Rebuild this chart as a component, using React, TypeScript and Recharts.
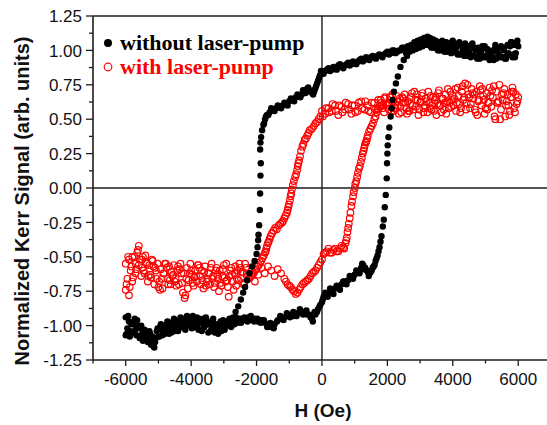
import React from 'react';
import { ScatterChart, Scatter, XAxis, YAxis, ReferenceLine, Legend, Label } from 'recharts';

// H (Oe), normalized Kerr signal — "without laser-pump", sweep from +6000 down to -6000
const blackDown: [number, number][] = [
  [6000, 1.03], [5900, 0.95], [5800, 1.06], [5700, 0.98], [5600, 0.94], [5500, 1.02], [5400, 0.97], [5300, 1.04],
  [5200, 0.95], [5100, 1.0], [5000, 0.96], [4900, 1.03], [4800, 0.97], [4700, 1.0], [4600, 1.05], [4500, 0.99],
  [4400, 1.03], [4300, 1.0], [4200, 1.06], [4100, 1.02], [4000, 1.07], [3900, 1.03], [3800, 1.06], [3700, 1.01],
  [3600, 1.05], [3500, 1.03], [3400, 1.08], [3300, 1.09], [3200, 1.04], [3100, 1.06], [3000, 1.05], [2900, 1.04],
  [2800, 1.02], [2700, 1.03], [2600, 1.01], [2500, 1.02], [2400, 1.0], [2300, 0.99], [2200, 1.0], [2100, 0.98],
  [2000, 0.99], [1900, 0.97], [1800, 0.96], [1700, 0.96], [1600, 0.95], [1500, 0.95], [1400, 0.94], [1300, 0.93],
  [1200, 0.94], [1100, 0.92], [1000, 0.91], [900, 0.9], [800, 0.91], [700, 0.89], [600, 0.88], [500, 0.89],
  [400, 0.87], [300, 0.86], [200, 0.87], [100, 0.85], [0, 0.84], [-60, 0.82], [-120, 0.78], [-180, 0.74],
  [-240, 0.7], [-300, 0.69], [-380, 0.71], [-460, 0.72], [-540, 0.7], [-620, 0.68], [-700, 0.67], [-800, 0.66],
  [-900, 0.64], [-1000, 0.63], [-1100, 0.61], [-1200, 0.6], [-1300, 0.59], [-1400, 0.58], [-1500, 0.57], [-1600, 0.55],
  [-1680, 0.53], [-1740, 0.5], [-1790, 0.46], [-1830, 0.42], [-1860, 0.37], [-1880, 0.33], [-1890, 0.28],
  [-1870, 0.18], [-1880, 0.09], [-1890, -0.04], [-1900, -0.16], [-1920, -0.27], [-1940, -0.34], [-1950, -0.38],
  [-1970, -0.43], [-2000, -0.48], [-2060, -0.53], [-2140, -0.57], [-2220, -0.62], [-2290, -0.67], [-2350, -0.72],
  [-2410, -0.76], [-2480, -0.81], [-2560, -0.86], [-2640, -0.9], [-2720, -0.94], [-2800, -0.96], [-2900, -0.99],
  [-3000, -1.02], [-3100, -0.97], [-3200, -1.03], [-3300, -0.99], [-3400, -1.04], [-3500, -0.98], [-3600, -1.01],
  [-3700, -0.96], [-3800, -1.0], [-3900, -0.95], [-4000, -0.99], [-4100, -0.96], [-4200, -1.02], [-4300, -0.98],
  [-4400, -1.04], [-4500, -1.0], [-4600, -1.05], [-4700, -1.01], [-4800, -1.06], [-4900, -1.03], [-5000, -1.08],
  [-5100, -1.12], [-5150, -1.15], [-5200, -1.11], [-5300, -1.07], [-5400, -1.04], [-5500, -1.06], [-5600, -1.0],
  [-5700, -1.03], [-5800, -0.98], [-5900, -1.05], [-6000, -1.07],
];

// "without laser-pump", sweep from -6000 back up to +6000
const blackUp: [number, number][] = [
  [-6000, -0.94], [-5950, -1.02], [-5900, -0.97], [-5850, -1.04], [-5750, -0.99], [-5650, -0.96], [-5550, -1.02],
  [-5450, -1.07], [-5350, -1.1], [-5250, -1.06], [-5150, -1.13], [-5050, -1.04], [-4950, -1.01], [-4850, -1.05],
  [-4750, -0.99], [-4650, -1.02], [-4550, -0.97], [-4450, -1.0], [-4350, -0.96], [-4250, -0.99], [-4150, -0.94],
  [-4050, -0.97], [-3950, -0.93], [-3850, -0.97], [-3750, -0.95], [-3650, -0.98], [-3550, -0.94], [-3450, -0.99],
  [-3350, -0.97], [-3250, -1.01], [-3150, -1.03], [-3050, -0.99], [-2950, -1.0], [-2850, -0.97], [-2750, -0.98],
  [-2650, -0.96], [-2550, -0.97], [-2450, -0.95], [-2350, -0.96], [-2250, -0.94], [-2150, -0.96], [-2050, -0.95],
  [-1950, -0.97], [-1850, -0.96], [-1750, -0.98], [-1650, -0.99], [-1550, -1.01], [-1450, -0.99], [-1350, -0.96],
  [-1250, -0.95], [-1150, -0.94], [-1050, -0.93], [-950, -0.92], [-850, -0.93], [-750, -0.91], [-650, -0.9],
  [-550, -0.9], [-450, -0.92], [-350, -0.94], [-280, -0.97], [-200, -0.92], [-120, -0.88], [-50, -0.85],
  [0, -0.83], [50, -0.79], [120, -0.78], [200, -0.76], [300, -0.75], [400, -0.73], [500, -0.72], [600, -0.7],
  [700, -0.68], [800, -0.67], [900, -0.65], [1000, -0.63], [1100, -0.61], [1200, -0.58], [1260, -0.56],
  [1320, -0.58], [1400, -0.61], [1460, -0.62], [1520, -0.6], [1580, -0.57], [1640, -0.53], [1700, -0.49],
  [1760, -0.43], [1820, -0.35], [1860, -0.28], [1890, -0.23], [1920, -0.14], [1950, -0.05], [1980, 0.07],
  [1990, 0.18], [2000, 0.25], [2010, 0.31], [2030, 0.37], [2060, 0.44], [2100, 0.52], [2130, 0.58],
  [2160, 0.64], [2200, 0.7], [2260, 0.76], [2320, 0.81], [2400, 0.88], [2500, 0.93], [2600, 0.96],
  [2700, 1.0], [2800, 1.03], [2900, 1.06], [3000, 1.04], [3100, 1.08], [3250, 1.05], [3350, 1.02],
  [3450, 1.06], [3550, 1.0], [3650, 1.04], [3750, 0.99], [3850, 1.03], [3950, 0.98], [4050, 1.02],
  [4150, 0.97], [4250, 1.04], [4350, 0.96], [4450, 1.0], [4550, 0.95], [4650, 1.02], [4750, 0.94],
  [4850, 0.99], [4950, 0.95], [5050, 1.01], [5150, 0.96], [5250, 0.93], [5350, 0.99], [5450, 0.95],
  [5550, 1.0], [5650, 0.96], [5750, 1.03], [5850, 0.97], [5950, 1.05],
];

// "without laser-pump", further readings inside the saturated bands and along the branches
const blackBandsExtra: [number, number][] = [
  [-5975, -1.06], [-5925, -0.93], [-5875, -1.08], [-5825, -0.99], [-5775, -1.05], [-5725, -0.95], [-5675, -1.07],
  [-5625, -1.01], [-5575, -1.09], [-5525, -1.0], [-5475, -1.11], [-5425, -1.03], [-5375, -1.08], [-5325, -1.12],
  [-5275, -1.04], [-5225, -1.14], [-5175, -1.08], [-5125, -1.16], [-5075, -1.09], [-5025, -1.02], [-4975, -1.08],
  [-4925, -0.99], [-4875, -1.07], [-4825, -1.01], [-4775, -1.05], [-4725, -0.97], [-4675, -1.06], [-4625, -0.99],
  [-4575, -1.03], [-4525, -0.95], [-4475, -1.04], [-4425, -0.97], [-4375, -1.02], [-4325, -0.94], [-4275, -1.01],
  [-4225, -0.96], [-4175, -1.03], [-4125, -0.93], [-4075, -1.0], [-4025, -0.95], [-3975, -1.02], [-3925, -0.96],
  [-3875, -1.01], [-3825, -0.94], [-3775, -1.03], [-3725, -0.97], [-3675, -1.04], [-3625, -0.95], [-3575, -1.0],
  [-3525, -0.96], [-3475, -1.05], [-3425, -0.98], [-3375, -1.02], [-3325, -0.95], [-3275, -1.05], [-3225, -0.99],
  [-3175, -1.06], [-3125, -1.0], [-3075, -1.04], [-3025, -0.96], [-2975, -1.03], [-2925, -0.97], [-2875, -1.0],
  [-2825, -0.95], [-2775, -1.01], [-2725, -0.96], [-2675, -0.99], [-2625, -0.94], [-2575, -0.98], [-2525, -0.95],
  [-2475, -0.98], [-2375, -0.94], [-2275, -0.97], [-2175, -0.93], [-2075, -0.97], [-1975, -0.95], [-1875, -0.98],
  [-1775, -0.96], [-1675, -1.01], [-1575, -0.98], [-1475, -1.02], [-1375, -0.97], [-1275, -0.93], [-1175, -0.96],
  [-1075, -0.91], [-975, -0.94], [-875, -0.9], [-775, -0.93], [-675, -0.88], [-575, -0.92], [-475, -0.89],
  [-375, -0.92], [-300, -0.95], [-225, -0.9], [-150, -0.9], [-75, -0.86], [25, -0.81], [100, -0.76], [175, -0.79],
  [250, -0.73], [350, -0.77], [450, -0.71], [550, -0.74], [650, -0.68], [750, -0.7], [850, -0.64], [950, -0.66],
  [1050, -0.6], [1150, -0.62], [1230, -0.55], [1290, -0.59], [1370, -0.6], [1430, -0.64], [1490, -0.61],
  [1550, -0.58], [1610, -0.56], [1670, -0.51], [1730, -0.46], [1790, -0.39],
  [2525, 1.01], [2575, 0.98], [2625, 1.03], [2675, 0.99], [2725, 1.04], [2775, 1.0], [2825, 1.06], [2875, 1.01],
  [2925, 1.07], [2975, 1.02], [3025, 1.08], [3075, 1.03], [3125, 1.09], [3175, 1.04], [3225, 1.1], [3275, 1.06],
  [3325, 1.03], [3375, 1.08], [3425, 1.02], [3475, 1.07], [3525, 1.01], [3575, 1.06], [3625, 1.0], [3675, 1.07],
  [3725, 1.02], [3775, 1.06], [3825, 0.99], [3875, 1.05], [3925, 1.0], [3975, 1.06], [4025, 0.99], [4075, 1.04],
  [4125, 0.98], [4175, 1.05], [4225, 0.97], [4275, 1.03], [4325, 0.98], [4375, 1.05], [4425, 0.96], [4475, 1.03],
  [4525, 0.97], [4575, 1.04], [4625, 0.96], [4675, 1.01], [4725, 0.95], [4775, 1.02], [4825, 0.94], [4875, 1.0],
  [4925, 0.96], [4975, 1.03], [5025, 0.95], [5075, 1.0], [5125, 0.93], [5175, 0.99], [5225, 0.95], [5275, 1.01],
  [5325, 0.94], [5375, 1.02], [5425, 0.96], [5475, 1.03], [5525, 0.95], [5575, 1.02], [5625, 0.94], [5675, 1.04],
  [5725, 0.97], [5775, 1.06], [5825, 0.95], [5875, 1.04], [5925, 0.98], [5975, 1.07],
  [2450, 1.02], [2350, 1.0], [2250, 0.98], [2150, 1.0], [2050, 0.97], [1950, 0.98], [1850, 0.95], [1750, 0.97],
  [1650, 0.94], [1550, 0.96], [1450, 0.93], [1350, 0.95], [1250, 0.92], [1150, 0.93], [1050, 0.9], [950, 0.92],
  [850, 0.89], [750, 0.9], [650, 0.87], [550, 0.9], [450, 0.86], [350, 0.88], [250, 0.85], [150, 0.86], [50, 0.83],
  [-30, 0.85], [-90, 0.8], [-150, 0.76], [-210, 0.72], [-270, 0.68], [-340, 0.7], [-420, 0.73], [-500, 0.69],
  [-580, 0.71], [-660, 0.66], [-750, 0.68], [-850, 0.63], [-950, 0.65], [-1050, 0.6], [-1150, 0.62], [-1250, 0.58],
  [-1350, 0.6], [-1450, 0.56], [-1550, 0.58], [-1640, 0.53], [-1710, 0.52], [-1770, 0.47],
];

// "with laser-pump", sweep from +6000 down to -6000
const redDown: [number, number][] = [
  [6000, 0.66], [5900, 0.55], [5800, 0.7], [5700, 0.6], [5600, 0.52], [5500, 0.68], [5400, 0.63], [5300, 0.5],
  [5200, 0.71], [5100, 0.62], [5000, 0.58], [4900, 0.72], [4800, 0.64], [4700, 0.55], [4600, 0.69], [4500, 0.66],
  [4400, 0.57], [4300, 0.74], [4200, 0.61], [4100, 0.56], [4000, 0.67], [3900, 0.62], [3800, 0.54], [3700, 0.65],
  [3600, 0.6], [3500, 0.53], [3400, 0.66], [3300, 0.58], [3200, 0.63], [3100, 0.55], [3000, 0.62], [2900, 0.68],
  [2800, 0.57], [2700, 0.61], [2600, 0.54], [2500, 0.65], [2400, 0.59], [2300, 0.63], [2200, 0.56], [2100, 0.66],
  [2000, 0.6], [1900, 0.55], [1800, 0.64], [1700, 0.58], [1600, 0.62], [1500, 0.55], [1400, 0.6], [1300, 0.57],
  [1200, 0.63], [1100, 0.56], [1000, 0.6], [900, 0.54], [800, 0.61], [700, 0.57], [600, 0.59], [500, 0.53],
  [400, 0.6], [300, 0.56], [200, 0.58], [100, 0.54], [0, 0.56], [-50, 0.52], [-150, 0.48], [-250, 0.45],
  [-370, 0.42], [-450, 0.38], [-530, 0.35], [-600, 0.3], [-670, 0.23], [-720, 0.18], [-760, 0.13], [-820, 0.08],
  [-890, 0.02], [-940, -0.04], [-980, -0.09], [-1030, -0.14], [-1070, -0.18], [-1150, -0.22], [-1220, -0.25],
  [-1320, -0.27], [-1430, -0.29], [-1530, -0.33], [-1600, -0.37], [-1650, -0.4], [-1700, -0.44], [-1740, -0.47],
  [-1820, -0.51], [-1890, -0.54], [-1970, -0.57], [-2050, -0.6], [-2130, -0.63], [-2200, -0.65], [-2300, -0.62],
  [-2400, -0.7], [-2500, -0.58], [-2600, -0.66], [-2700, -0.74], [-2800, -0.6], [-2900, -0.67], [-3000, -0.56],
  [-3100, -0.69], [-3200, -0.63], [-3300, -0.72], [-3400, -0.58], [-3500, -0.66], [-3600, -0.61], [-3700, -0.7],
  [-3800, -0.56], [-3900, -0.65], [-4000, -0.6], [-4100, -0.73], [-4200, -0.8], [-4300, -0.62], [-4400, -0.57],
  [-4500, -0.68], [-4600, -0.61], [-4700, -0.7], [-4800, -0.55], [-4900, -0.66], [-5000, -0.72], [-5100, -0.58],
  [-5200, -0.52], [-5300, -0.64], [-5400, -0.49], [-5500, -0.58], [-5600, -0.42], [-5700, -0.55], [-5800, -0.68],
  [-5900, -0.52], [-6000, -0.74],
];

// "with laser-pump", sweep from -6000 back up to +6000
const redUp: [number, number][] = [
  [-6000, -0.55], [-5950, -0.66], [-5900, -0.78], [-5850, -0.6], [-5800, -0.5], [-5700, -0.62], [-5650, -0.47],
  [-5600, -0.56], [-5500, -0.52], [-5450, -0.6], [-5350, -0.55], [-5250, -0.63], [-5150, -0.57], [-5050, -0.66],
  [-4950, -0.74], [-4850, -0.62], [-4750, -0.58], [-4650, -0.67], [-4550, -0.63], [-4450, -0.71], [-4350, -0.59],
  [-4250, -0.76], [-4150, -0.66], [-4050, -0.62], [-3950, -0.69], [-3850, -0.64], [-3750, -0.58], [-3650, -0.67],
  [-3550, -0.71], [-3450, -0.62], [-3350, -0.66], [-3250, -0.6], [-3150, -0.75], [-3050, -0.64], [-2950, -0.68],
  [-2850, -0.79], [-2750, -0.63], [-2650, -0.57], [-2550, -0.67], [-2450, -0.61], [-2350, -0.55], [-2250, -0.66],
  [-2150, -0.6], [-2050, -0.68], [-1950, -0.63], [-1850, -0.58], [-1750, -0.62], [-1650, -0.57], [-1550, -0.6],
  [-1450, -0.64], [-1350, -0.59], [-1250, -0.62], [-1150, -0.66], [-1050, -0.7], [-950, -0.72], [-850, -0.75],
  [-750, -0.76], [-650, -0.72], [-550, -0.69], [-450, -0.67], [-350, -0.64], [-250, -0.61], [-150, -0.58],
  [-50, -0.54], [50, -0.48], [150, -0.46], [250, -0.47], [350, -0.45], [450, -0.46], [550, -0.44], [650, -0.43],
  [720, -0.4], [760, -0.36], [800, -0.29], [850, -0.22], [900, -0.13], [950, -0.06], [1000, 0.0], [1050, 0.05],
  [1100, 0.11], [1160, 0.16], [1220, 0.22], [1270, 0.27], [1310, 0.31], [1360, 0.34], [1400, 0.38], [1480, 0.43],
  [1560, 0.47], [1640, 0.52], [1710, 0.57], [1780, 0.6], [1850, 0.58], [1920, 0.65], [1950, 0.61], [2050, 0.57],
  [2150, 0.68], [2250, 0.6], [2350, 0.54], [2450, 0.66], [2550, 0.62], [2650, 0.56], [2750, 0.69], [2850, 0.64],
  [2950, 0.53], [3050, 0.67], [3150, 0.6], [3250, 0.7], [3350, 0.57], [3450, 0.64], [3550, 0.69], [3650, 0.55],
  [3750, 0.62], [3850, 0.72], [3950, 0.59], [4050, 0.65], [4150, 0.73], [4250, 0.58], [4350, 0.66], [4450, 0.75],
  [4550, 0.61], [4650, 0.68], [4750, 0.53], [4850, 0.71], [4950, 0.64], [5050, 0.57], [5150, 0.67], [5250, 0.74],
  [5350, 0.62], [5450, 0.5], [5550, 0.69], [5650, 0.63], [5750, 0.56], [5850, 0.7], [5950, 0.61],
];

// "with laser-pump", further readings inside the saturated bands and along the branches
const redBandsExtra: [number, number][] = [
  [-5975, -0.7], [-5925, -0.5], [-5875, -0.72], [-5825, -0.57], [-5775, -0.65], [-5725, -0.5], [-5675, -0.59],
  [-5625, -0.45], [-5575, -0.52], [-5525, -0.64], [-5475, -0.5], [-5425, -0.62], [-5375, -0.54], [-5325, -0.68],
  [-5275, -0.56], [-5225, -0.65], [-5175, -0.53], [-5125, -0.7], [-5075, -0.6], [-5025, -0.55], [-4975, -0.68],
  [-4925, -0.59], [-4875, -0.73], [-4825, -0.62], [-4775, -0.55], [-4725, -0.66], [-4675, -0.57], [-4625, -0.7],
  [-4575, -0.64], [-4525, -0.56], [-4475, -0.66], [-4425, -0.6], [-4375, -0.7], [-4325, -0.55], [-4275, -0.69],
  [-4225, -0.62], [-4175, -0.78], [-4125, -0.58], [-4075, -0.67], [-4025, -0.55], [-3975, -0.63], [-3925, -0.71],
  [-3875, -0.6], [-3825, -0.68], [-3775, -0.56], [-3725, -0.64], [-3675, -0.6], [-3625, -0.73], [-3575, -0.57],
  [-3525, -0.68], [-3475, -0.62], [-3425, -0.7], [-3375, -0.55], [-3325, -0.64], [-3275, -0.69], [-3225, -0.58],
  [-3175, -0.66], [-3125, -0.6], [-3075, -0.71], [-3025, -0.59], [-2975, -0.65], [-2925, -0.55], [-2875, -0.72],
  [-2825, -0.64], [-2775, -0.58], [-2725, -0.68], [-2675, -0.62], [-2625, -0.71], [-2575, -0.6], [-2525, -0.55],
  [-2475, -0.66], [-2425, -0.61], [-2375, -0.69], [-2325, -0.58],
  [25, 0.52], [125, 0.58], [225, 0.55], [325, 0.61], [425, 0.56], [525, 0.6], [625, 0.55], [725, 0.62], [825, 0.57],
  [925, 0.6], [1025, 0.55], [1125, 0.62], [1225, 0.58], [1325, 0.63], [1425, 0.56], [1525, 0.62], [1625, 0.57],
  [1725, 0.64], [1825, 0.6], [1925, 0.66], [2025, 0.62], [2075, 0.66], [2125, 0.56], [2175, 0.63], [2225, 0.58],
  [2275, 0.67], [2325, 0.6], [2375, 0.65], [2425, 0.55], [2475, 0.62], [2525, 0.68], [2575, 0.58], [2625, 0.63],
  [2675, 0.56], [2725, 0.66], [2775, 0.6], [2825, 0.7], [2875, 0.59], [2925, 0.64], [2975, 0.57], [3025, 0.63],
  [3075, 0.69], [3125, 0.58], [3175, 0.65], [3225, 0.55], [3275, 0.62], [3325, 0.67], [3375, 0.6], [3425, 0.56],
  [3475, 0.66], [3525, 0.61], [3575, 0.71], [3625, 0.6], [3675, 0.65], [3725, 0.57], [3775, 0.68], [3825, 0.63],
  [3875, 0.58], [3925, 0.7], [3975, 0.64], [4025, 0.6], [4075, 0.72], [4125, 0.62], [4175, 0.67], [4225, 0.55],
  [4275, 0.7], [4325, 0.64], [4375, 0.76], [4425, 0.62], [4475, 0.68], [4525, 0.58], [4575, 0.72], [4625, 0.65],
  [4675, 0.57], [4725, 0.7], [4775, 0.63], [4825, 0.74], [4875, 0.6], [4925, 0.67], [4975, 0.54], [5025, 0.69],
  [5075, 0.62], [5125, 0.73], [5175, 0.59], [5225, 0.66], [5275, 0.52], [5325, 0.7], [5375, 0.62], [5425, 0.75],
  [5475, 0.57], [5525, 0.64], [5575, 0.72], [5625, 0.6], [5675, 0.68], [5725, 0.53], [5775, 0.66], [5825, 0.73],
  [5875, 0.58], [5925, 0.68], [5975, 0.63],
  [-100, 0.5], [-200, 0.47], [-310, 0.43], [-410, 0.4], [-490, 0.36], [-570, 0.32], [-640, 0.27], [-700, 0.2],
  [-740, 0.16], [-790, 0.1], [-860, 0.05], [-920, -0.01], [-960, -0.06], [-1010, -0.12], [-1050, -0.16],
  [-1110, -0.2], [-1190, -0.24], [-1270, -0.26], [-1380, -0.3], [-1480, -0.31], [-1570, -0.35], [-1630, -0.39],
  [-1680, -0.42], [-1720, -0.46], [-1780, -0.49], [-1860, -0.53], [-1930, -0.56], [-2010, -0.59], [-2090, -0.62],
  [-2170, -0.64],
  [-1100, -0.68], [-1000, -0.71], [-900, -0.74], [-800, -0.77], [-700, -0.74], [-600, -0.7], [-500, -0.68],
  [-400, -0.66], [-300, -0.62], [-200, -0.6], [-100, -0.56], [0, -0.52], [100, -0.47], [200, -0.44], [300, -0.47],
  [400, -0.44], [500, -0.46], [600, -0.42], [680, -0.44], [740, -0.38], [780, -0.32], [820, -0.26], [870, -0.18],
  [920, -0.1], [970, -0.03], [1020, 0.03], [1075, 0.08], [1130, 0.14], [1190, 0.19], [1245, 0.25], [1290, 0.29],
  [1335, 0.33], [1380, 0.36], [1440, 0.41], [1520, 0.45], [1600, 0.5], [1680, 0.55], [1750, 0.59], [1820, 0.62],
  [1880, 0.6],
];

const xTicks = [-7000, -6000, -5000, -4000, -3000, -2000, -1000, 0, 1000, 2000, 3000, 4000, 5000, 6000];
const xLabelTicks = [-6000, -4000, -2000, 0, 2000, 4000, 6000];
const yTicks = [-1.25, -1.125, -1.0, -0.875, -0.75, -0.625, -0.5, -0.375, -0.25, -0.125, 0, 0.125, 0.25, 0.375, 0.5, 0.625, 0.75, 0.875, 1.0, 1.125, 1.25];
const yLabelTicks = [-1.25, -1.0, -0.75, -0.5, -0.25, 0, 0.25, 0.5, 0.75, 1.0, 1.25];

const seriesNames = ['without laser-pump', 'with laser-pump'];
const seriesColors = ['#000000', '#ff0000'];

const toPoints = (arr: [number, number][]) => arr.map(([h, m]) => ({ h, m }));
const withoutLaser = [...toPoints(blackDown), ...toPoints(blackUp), ...toPoints(blackBandsExtra)];
const withLaser = [...toPoints(redDown), ...toPoints(redUp), ...toPoints(redBandsExtra)];

const AXIS = '#1c1c1c';
const SANS = '"Liberation Sans", Arial, sans-serif';
const SERIF = '"Liberation Serif", "Times New Roman", serif';

const YTick = (props: any) => {
  const { x, y, payload } = props;
  const v = payload.value;
  const major = yLabelTicks.some((t) => Math.abs(t - v) < 1e-9);
  return (
    <g>
      <line x1={x - (major ? 7 : 4)} x2={x} y1={y} y2={y} stroke={AXIS} strokeWidth={1.3} />
      {major && (
        <text x={x - 11} y={y} dy="0.36em" textAnchor="end" fontFamily={SANS} fontSize={17} fill="#111">
          {v.toFixed(2)}
        </text>
      )}
    </g>
  );
};

const XTick = (props: any) => {
  const { x, y, payload } = props;
  const v = payload.value;
  const major = xLabelTicks.includes(v);
  return (
    <g>
      <line x1={x} x2={x} y1={y} y2={y + (major ? 6 : 3.5)} stroke={AXIS} strokeWidth={1.3} />
      {major && (
        <text x={x} y={y + 25} textAnchor="middle" fontFamily={SANS} fontSize={17} fill="#111">
          {String(v)}
        </text>
      )}
    </g>
  );
};

const XTitle = (props: any) => {
  const { x, y, width } = props.viewBox;
  return (
    <text x={x + width / 2 + 3} y={y + 57} textAnchor="middle" fontFamily={SANS} fontWeight="bold" fontSize={19} fill="#111">
      H (Oe)
    </text>
  );
};

const YTitle = (props: any) => {
  const { x, y, height } = props.viewBox;
  const cx = x + 21.5;
  const cy = y + height / 2 + 13;
  return (
    <text x={cx} y={cy} dy="0.36em" textAnchor="middle" transform={`rotate(-90, ${cx}, ${cy})`} fontFamily={SANS} fontWeight="bold" fontSize={20} fill="#111">
      Normalized Kerr Signal (arb. units)
    </text>
  );
};

const blackShape = (p: any) => <circle cx={p.cx} cy={p.cy} r={3.2} fill="#000" />;
const redShape = (p: any) => <circle cx={p.cx} cy={p.cy} r={3.3} fill="none" stroke="#ff0000" strokeWidth={1.2} />;

const LegendBox = () => (
  <svg width={250} height={54}>
    <circle cx={10} cy={15} r={4} fill={seriesColors[0]} />
    <text x={22} y={21.5} fontFamily={SERIF} fontWeight="bold" fontSize={22} fill={seriesColors[0]}>
      {seriesNames[0]}
    </text>
    <circle cx={10} cy={39} r={3.8} fill="none" stroke={seriesColors[1]} strokeWidth={1.2} />
    <text x={22} y={45.5} fontFamily={SERIF} fontWeight="bold" fontSize={22} fill={seriesColors[1]}>
      {seriesNames[1]}
    </text>
  </svg>
);

export default function App() {
  return (
    <div>
      <style>{'body{margin:0;overflow:hidden;}'}</style>
      <ScatterChart width={547} height={425} margin={{ top: 16, right: 0, bottom: 0, left: 0 }}>
        <XAxis
          type="number"
          dataKey="h"
          domain={[-7000, 6880]}
          allowDataOverflow
          ticks={xTicks}
          interval={0}
          tick={(p: any) => <XTick {...p} />}
          tickLine={false}
          tickSize={0}
          tickMargin={0}
          height={65}
          axisLine={{ stroke: AXIS, strokeWidth: 1.6 }}
        >
          <Label content={XTitle} />
        </XAxis>
        <YAxis
          type="number"
          dataKey="m"
          domain={[-1.25, 1.25]}
          allowDataOverflow
          ticks={yTicks}
          interval={0}
          tick={(p: any) => <YTick {...p} />}
          tickLine={false}
          tickSize={0}
          tickMargin={0}
          width={93}
          axisLine={{ stroke: AXIS, strokeWidth: 1.6 }}
        >
          <Label content={YTitle} />
        </YAxis>
        <ReferenceLine y={1.25} stroke={AXIS} strokeWidth={1.6} />
        <ReferenceLine y={0} stroke={AXIS} strokeWidth={1.4} />
        <ReferenceLine x={0} stroke={AXIS} strokeWidth={1.4} />
        <Legend
          layout="vertical"
          align="center"
          verticalAlign="middle"
          wrapperStyle={{ left: 98, top: 28, width: 250, height: 54 }}
          content={() => <LegendBox />}
        />
        <Scatter name={seriesNames[1]} data={withLaser} shape={redShape} isAnimationActive={false} />
        <Scatter name={seriesNames[0]} data={withoutLaser} shape={blackShape} isAnimationActive={false} />
      </ScatterChart>
    </div>
  );
}
